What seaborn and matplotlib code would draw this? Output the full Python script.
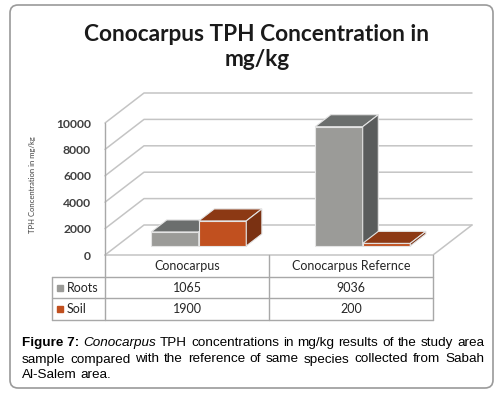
import matplotlib

matplotlib.use("Agg")
import matplotlib.pyplot as plt
import matplotlib.transforms as mtransforms
import pandas as pd
import seaborn as sns
from matplotlib.patches import FancyBboxPatch, Polygon

# data
categories = ["Conocarpus", "Conocarpus Refernce"]
series = ["Roots", "Soil"]
roots = [1065, 9036]
soil = [1900, 200]
y_ticks = [0, 2000, 4000, 6000, 8000, 10000]
title = "Conocarpus TPH Concentration in\nmg/kg"
y_label = "TPH Concentration in mg/kg"
caption_lines = [
    [("Figure 7:", "bold", "normal"), ("Conocarpus", "normal", "italic")]
    + [(w, "normal", "normal") for w in "TPH concentrations in mg/kg results of the study area".split()],
    [(w, "normal", "normal") for w in "sample compared with the reference of same species collected from Sabah".split()],
    [(w, "normal", "normal") for w in "Al-Salem area.".split()],
]

front = {"Roots": "#9b9b98", "Soil": "#c1501f"}
top = {"Roots": "#6b6e6d", "Soil": "#8c3914"}
side = {"Roots": "#5a5c5c", "Soil": "#7a3112"}
GRID = "#c4c4c4"
LINE = "#a8a8a8"
TEXT = "#262626"

df = pd.DataFrame(
    {
        "category": categories * len(series),
        "series": [s for s in series for _ in categories],
        "value": roots + soil,
    }
)

sns.set_theme(style="white")
plt.rcParams["font.family"] = ["Lato", "DejaVu Sans"]

W, H = 495, 394
fig = plt.figure(figsize=(W / 100, H / 100), dpi=100)


def px_axes(x0, y0, x1, y1):
    return fig.add_axes([x0 / W, 1 - y1 / H, (x1 - x0) / W, (y1 - y0) / H])


# front plane of the 3d box
ax = px_axes(105, 123, 433, 255)
sns.barplot(
    data=df, x="category", y="value", hue="series", palette=front,
    width=0.58, saturation=1, legend=False, ax=ax,
)
ax.set_xlim(-0.5, 1.5)
ax.set_ylim(0, 10000)
ax.set_xticks([])
ax.set_xlabel("")
ax.set_ylabel("")
for spine in ax.spines.values():
    spine.set_visible(False)
ax.set_yticks(y_ticks)
ax.set_yticklabels([str(t) for t in y_ticks], fontweight="bold")
ax.tick_params(axis="y", length=0, pad=10, labelsize=8.7, labelcolor="#404040")
ax.text(-0.22, 0.53, y_label, rotation=90, transform=ax.transAxes,
        ha="center", va="center", fontsize=5.5, color="#404040")

# depth of the floor, in data units (39 px right, 30 px up)
px_per_x = 328 / 2
px_per_y = 132 / 10000
ddx, ddy = 39 / px_per_x, 30 / px_per_y

for t in y_ticks:
    ax.plot([-0.5, -0.5 + ddx, 1.5 + ddx], [t, t + ddy, t + ddy],
            color=GRID, lw=1.1, clip_on=False, zorder=1)
ax.plot([-0.5, 1.5, 1.5 + ddx], [0, 0, ddy], color=GRID, lw=1.1, clip_on=False, zorder=1)
ax.plot([-0.5, -0.5], [0, 10000], color=LINE, lw=1, clip_on=False, zorder=1)

# push bars 0.3 into the box and give them 0.4 of depth
shift = mtransforms.ScaledTranslation(0.3 * 39 / 100, 0.3 * 30 / 100, fig.dpi_scale_trans)
bx, by = 0.4 * ddx, 0.4 * ddy
bars = sorted(ax.patches, key=lambda p: p.get_x())
for i, p in enumerate(bars):
    name = "Roots" if p.get_facecolor()[0] < 0.7 else "Soil"
    x0, w, h = p.get_x(), p.get_width(), p.get_height()
    x1 = x0 + w
    z = 3 + i
    p.set_transform(ax.transData + shift)
    p.set_clip_on(False)
    p.set_zorder(z)
    p.set_edgecolor("#e4e4e4")
    p.set_linewidth(0.8)
    faces = [
        ([(x0, h), (x1, h), (x1 + bx, h + by), (x0 + bx, h + by)], top[name]),
        ([(x1, 0), (x1, h), (x1 + bx, h + by), (x1 + bx, by)], side[name]),
    ]
    for verts, color in faces:
        ax.add_patch(Polygon(verts, closed=True, facecolor=color, edgecolor="#e4e4e4",
                             lw=0.8, transform=ax.transData + shift, clip_on=False, zorder=z))

# data table under the floor
x_left = -0.5 - 53 / px_per_x
tax = px_axes(52, 255, 433, 320)
tax.set_xlim(x_left, 1.5)
tax.set_ylim(3, 0)
tax.axis("off")
for r in [1, 2, 3]:
    tax.plot([x_left, 1.5], [r, r], color=LINE, lw=1, clip_on=False)
tax.plot([x_left, x_left], [1, 3], color=LINE, lw=1, clip_on=False)
for c in [-0.5, 0.5, 1.5]:
    tax.plot([c, c], [0, 3], color=LINE, lw=1, clip_on=False)

for i, cat in enumerate(categories):
    tax.text(i, 0.5, cat, ha="center", va="center", fontsize=9, color=TEXT)
for r, (name, vals) in enumerate(zip(series, [roots, soil]), start=1):
    tax.plot([x_left + 8 / px_per_x], [r + 0.5], marker="s", ms=4.5,
             color=front[name], clip_on=False)
    tax.text(x_left + 15 / px_per_x, r + 0.5, name, ha="left", va="center",
             fontsize=9, color=TEXT)
    for i, v in enumerate(vals):
        tax.text(i, r + 0.5, str(v), ha="center", va="center", fontsize=9, color=TEXT)

# chart title
fig.text(257 / W, 1 - 47 / H, title, ha="center", va="center", fontsize=16.3,
         fontweight="bold", color="#1a1a1a", linespacing=1.2)

# justified caption
renderer = fig.canvas.get_renderer()
left, right = 22, 484
baselines = [346, 362.5, 378.5]
for n, (words, base) in enumerate(zip(caption_lines, baselines)):
    items = []
    for word, weight, style in words:
        t = fig.text(0, 1 - base / H, word, ha="left", va="baseline",
                     fontsize=9.7, fontweight=weight, fontstyle=style,
                     family="Liberation Sans", color="black")
        items.append((t, t.get_window_extent(renderer).width))
    total = sum(w for _, w in items)
    if n < len(caption_lines) - 1:
        gap = (right - left - total) / (len(items) - 1)
    else:
        gap = 3.5
    x = left
    for t, w in items:
        t.set_x(x / W)
        x += w + gap

frame = FancyBboxPatch((10, H - 388), 483, 383, boxstyle="round,pad=0,rounding_size=8",
                       transform=mtransforms.IdentityTransform(),
                       facecolor="none", edgecolor="#9a9a9a", lw=1.2)
fig.add_artist(frame)

fig.savefig("out.png", dpi=100)
